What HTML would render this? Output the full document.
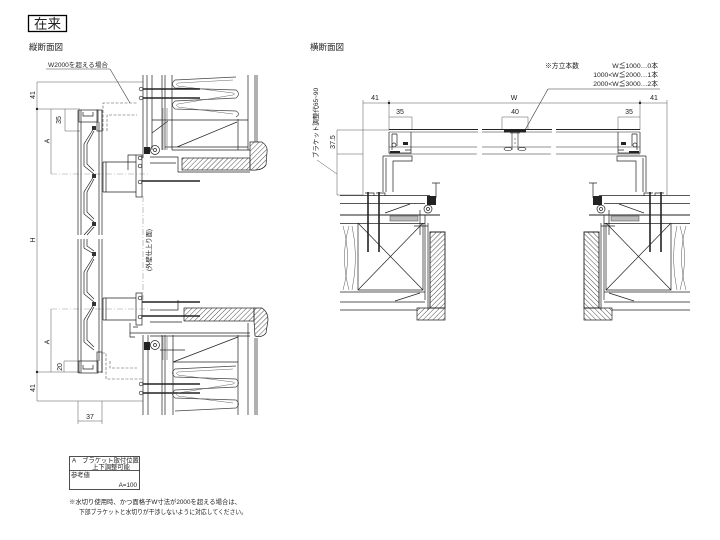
<!DOCTYPE html>
<html><head><meta charset="utf-8">
<style>
html,body{margin:0;padding:0;background:#fff;}
svg{display:block;}
text{font-family:"Liberation Sans","Noto Sans CJK JP",sans-serif;fill:#222;}
</style></head><body>
<svg width="720" height="540" viewBox="0 0 720 540" xmlns="http://www.w3.org/2000/svg">
<defs>
<pattern id="hatch" patternUnits="userSpaceOnUse" width="3.5" height="3.5" patternTransform="rotate(45)">
<line x1="0" y1="0" x2="0" y2="3.5" stroke="#222" stroke-width="0.8"/>
</pattern>
</defs>

<!-- Title -->
<rect x="28.5" y="15.5" width="38" height="16" fill="none" stroke="#000" stroke-width="1.3"/>
<text x="47.5" y="28.5" font-size="13.5" text-anchor="middle" fill="#000">在来</text>
<text x="29" y="50" font-size="8.5">縦断面図</text>
<text x="310" y="50" font-size="8.5">横断面図</text>

<!-- ============ LEFT: vertical section ============ -->
<text x="48" y="67" font-size="6.5" textLength="60" lengthAdjust="spacingAndGlyphs">W2000を超える場合</text>
<g stroke="#444" stroke-width="0.6" fill="none">
<line x1="46" y1="69" x2="110" y2="69"/>
<line x1="110" y1="69" x2="130" y2="103"/>
</g>

<!-- dimensions -->
<g stroke="#555" stroke-width="0.5" fill="none">
<line x1="37" y1="82" x2="37" y2="401"/>
<line x1="37" y1="82" x2="143" y2="82"/>
<line x1="37" y1="109" x2="80" y2="109"/>
<line x1="37" y1="372" x2="80" y2="372"/>
<line x1="37" y1="401" x2="143" y2="401"/>
<line x1="51" y1="109" x2="51" y2="174"/>
<line x1="51" y1="309" x2="51" y2="372"/>
<line x1="65" y1="109" x2="65" y2="131"/>
<line x1="65" y1="131" x2="80" y2="131"/>
<line x1="64" y1="361" x2="64" y2="372"/>
<line x1="64" y1="361" x2="80" y2="361"/>
<line x1="78" y1="401" x2="78" y2="424"/>
<line x1="102" y1="401" x2="102" y2="424"/>
<line x1="78" y1="421" x2="102" y2="421"/>
</g>
<g fill="#222"><circle cx="37" cy="109" r="1.2"/><circle cx="37" cy="372" r="1.2"/></g>
<g stroke="#999" stroke-width="0.6" stroke-dasharray="6,2,1,2" fill="none">
<line x1="51" y1="174" x2="150" y2="174"/>
<line x1="51" y1="309" x2="150" y2="309"/>
<line x1="143" y1="196" x2="143" y2="300"/>
</g>
<g font-size="7">
<text transform="translate(35,95) rotate(-90)" text-anchor="middle">41</text>
<text transform="translate(35,240) rotate(-90)" text-anchor="middle">H</text>
<text transform="translate(35,388) rotate(-90)" text-anchor="middle">41</text>
<text transform="translate(49.5,141) rotate(-90)" text-anchor="middle">A</text>
<text transform="translate(49.5,342) rotate(-90)" text-anchor="middle">A</text>
<text transform="translate(61,120) rotate(-90)" text-anchor="middle">35</text>
<text transform="translate(62,367) rotate(-90)" text-anchor="middle">20</text>
<text x="90" y="419" text-anchor="middle">37</text>
<text transform="translate(151,250) rotate(-90)" text-anchor="middle" font-size="6.3">(外壁仕上り面)</text>
</g>

<!-- louver panel -->
<g stroke="#222" stroke-width="0.7" fill="none">
<path d="M78,110 V235 M81,110 V235 M99,122 V235 M102,110 V235 M78,239 V373 M81,239 V373 M99,239 V361 M102,239 V373"/>
<rect x="79" y="110" width="19" height="12"/>
<path d="M83,112 V116 H93 V112"/>
<rect x="97" y="110" width="5" height="21"/>
<rect x="79" y="361" width="19" height="12"/>
<path d="M83,365 V369 H93 V365"/>
<rect x="97" y="352" width="5" height="20"/>
<!-- slats -->
<path d="M94,128 L84,144 L84,166 L94,174 M94,131 L87,144 L87,164 L94,171"/>
<path d="M94,176 L84,192 L84,214 L94,222 M94,179 L87,192 L87,212 L94,219"/>
<path d="M94,224 L84,235 M94,227 L87,235"/>
<path d="M84,239 L84,248 L94,254 M87,239 L87,246 L94,251"/>
<path d="M94,256 L84,272 L84,294 L94,302 M94,259 L87,272 L87,292 L94,299"/>
<path d="M94,304 L84,320 L84,342 L94,350 M94,307 L87,320 L87,340 L94,347"/>
</g>
<g fill="#333">
<rect x="92" y="126" width="4" height="4"/><rect x="92" y="174" width="4" height="4"/>
<rect x="92" y="222" width="4" height="4"/><rect x="92" y="252" width="4" height="4"/>
<rect x="92" y="302" width="4" height="4"/>
</g>
<!-- W2000 dashed outlines -->
<g stroke="#555" stroke-width="0.6" stroke-dasharray="3,1.5" fill="none">
<path d="M103,131 V103 H137 M107,131 V115 H137"/>
<path d="M102,353 H106 V379 H143 M110,361 V368 H137"/>
</g>

<!-- brackets (cylinders) -->
<g stroke="#222" stroke-width="0.7" fill="none">
<path d="M103,162 H136 M103,192 H136 M103,162 V192 M106,162 V192"/>
<rect x="136" y="155" width="6" height="42"/>
<path d="M128,170 V155 H136"/>
<circle cx="140" cy="158" r="1.8"/><circle cx="140" cy="166" r="1.8"/><circle cx="140" cy="182" r="1.8"/>
<path d="M103,298 H136 M103,320 H136 M103,298 V320 M106,298 V320"/>
<rect x="136" y="293" width="6" height="32"/>
<circle cx="140" cy="298" r="1.8"/><circle cx="140" cy="317" r="1.8"/>
<path d="M130,323 V337 H135 M133,327 h5"/>
</g>

<!-- upper wall -->
<g stroke="#222" stroke-width="0.7" fill="none">
<path d="M143,75 V158 M147,75 V150 M152,75 V150 M162,75 V150 M165,75 V150 M172,75 V150 M238,119 V150 M248,75 V150 M255,75 V142 M257,75 V142"/>
<path d="M152,120 H248 M165,147 H248 M172,150 H250 M177,147 L237,122 M152,133 L168,121"/>
<path d="M163,108 V150 M167,108 V150" stroke="#777"/>
<path d="M150,157 H178 V172 H250 M150,163 H176"/>
<!-- insulation -->
<path d="M236,77 L175,80 Q170,84 175,88 L236,90 Q241,94 236,98 L175,101 Q170,105 175,109 L236,111 Q241,114 236,117" stroke="#444"/>
<path d="M233,80 L178,83 Q175,84 178,86 L233,93 Q236,94 233,95 L178,104 Q175,105 178,107 L233,114" stroke="#666" stroke-width="0.5"/>
<circle cx="155" cy="150" r="4.5"/>
<circle cx="155" cy="150" r="1.5"/>
</g>
<rect x="144" y="147" width="6" height="7" fill="#222"/>
<rect x="182" y="158" width="68" height="12" fill="url(#hatch)" stroke="#222" stroke-width="0.7"/>
<path d="M250,142 H262 Q268,146 267,152 L266,165 Q262,171 250,170 Z" fill="url(#hatch)" stroke="#222" stroke-width="0.7"/>
<g stroke="#222" stroke-width="1.6">
<line x1="142" y1="89" x2="200" y2="89"/>
<line x1="142" y1="98" x2="200" y2="98"/>
<line x1="142" y1="181" x2="200" y2="181"/>
<line x1="142" y1="302" x2="200" y2="302"/>
<line x1="142" y1="316" x2="200" y2="316"/>
<line x1="142" y1="384" x2="200" y2="384"/>
<line x1="142" y1="393" x2="200" y2="393"/>
</g>
<g fill="#fff" stroke="#222" stroke-width="0.6">
<circle cx="141" cy="89" r="1.8"/><circle cx="141" cy="98" r="1.8"/>
<circle cx="141" cy="384" r="1.8"/><circle cx="141" cy="393" r="1.8"/>
</g>

<!-- lower wall -->
<g stroke="#222" stroke-width="0.7" fill="none">
<path d="M143,335 V415 M148,335 V415 M162,335 V415 M165,335 V415 M173,335 V415 M238,335 V415 M248,323 V415 M255,338 V415 M257,338 V415"/>
<path d="M130,333 H250 M150,336 H250 M173,362 H238 M173,362 L238,337 M160,350 H185"/>
<path d="M163,336 V360 M167,336 V360" stroke="#777"/>
<path d="M150,310 H178 V300 M150,322 H182"/>
<path d="M236,366 L175,369 Q170,373 175,377 L236,379 Q241,383 236,387 L175,390 Q170,394 175,398 L236,400 Q241,404 236,408 L175,411" stroke="#444"/>
<path d="M233,369 L178,372 Q175,373 178,375 L233,382 Q236,383 233,384 L178,393 Q175,394 178,396 L233,403" stroke="#666" stroke-width="0.5"/>
<circle cx="155" cy="345" r="4.5"/>
<circle cx="155" cy="345" r="1.5"/>
</g>
<rect x="144" y="342" width="6" height="8" fill="#222"/>
<rect x="184" y="308" width="70" height="13" fill="url(#hatch)" stroke="#222" stroke-width="0.7"/>
<path d="M254,308 H262 Q268,312 268,320 L266,333 Q262,338 255,336 L254,321 Z" fill="url(#hatch)" stroke="#222" stroke-width="0.7"/>

<!-- ============ RIGHT: horizontal section ============ -->
<g font-size="6.8">
<text x="545" y="68">※方立本数</text>
<text x="658" y="68" text-anchor="end">W≦1000…0本</text>
<text x="658" y="77" text-anchor="end">1000&lt;W≦2000…1本</text>
<text x="658" y="86" text-anchor="end">2000&lt;W≦3000…2本</text>
</g>
<g stroke="#333" stroke-width="0.6" fill="none">
<line x1="548" y1="89" x2="660" y2="89"/>
<line x1="548" y1="89" x2="525" y2="130"/>
</g>
<!-- dims -->
<g stroke="#555" stroke-width="0.5" fill="none">
<line x1="363" y1="103" x2="667" y2="103"/>
<line x1="363" y1="100" x2="363" y2="195"/>
<line x1="667" y1="100" x2="667" y2="195"/>
<line x1="389" y1="100" x2="389" y2="130"/>
<line x1="640" y1="100" x2="640" y2="130"/>
<path d="M389,117 H412 V130 M502,117 H528 V130 M502,117 V130 M618,117 H640 M618,117 V130"/>
<line x1="337" y1="130" x2="389" y2="130"/>
<line x1="337" y1="130" x2="337" y2="195"/>
<line x1="337" y1="154" x2="363" y2="154"/>
<line x1="337" y1="195" x2="363" y2="195"/>
<line x1="317" y1="160" x2="337" y2="174"/>
</g>
<g fill="#222"><circle cx="389" cy="103" r="1.2"/><circle cx="640" cy="103" r="1.2"/></g>
<g font-size="7">
<text x="375" y="100" text-anchor="middle">41</text>
<text x="514" y="100" text-anchor="middle">W</text>
<text x="654" y="100" text-anchor="middle">41</text>
<text x="400" y="114" text-anchor="middle">35</text>
<text x="515" y="114" text-anchor="middle">40</text>
<text x="629" y="114" text-anchor="middle">35</text>
<text transform="translate(335,142) rotate(-90)" text-anchor="middle">37.5</text>
<text transform="translate(318,123) rotate(-90)" text-anchor="middle" font-size="6.5">ブラケット調整代65~90</text>
</g>

<!-- frame rails -->
<g stroke="#222" fill="none">
<path d="M389,129.5 H478 M482,129.5 H552 M556,129.5 H640" stroke-width="1.1"/>
<path d="M389,132 H478 M482,132 H552 M556,132 H640" stroke-width="0.6"/>
<path d="M389,147 H478 M482,147 H552 M556,147 H640" stroke-width="0.6"/>
<path d="M389,154 H478 M482,154 H552 M556,154 H640" stroke-width="0.6"/>
</g>
<g stroke="#fff" stroke-width="1.2">
<line x1="479" y1="126" x2="477" y2="158"/><line x1="553" y1="126" x2="551" y2="158"/>
</g>
<!-- mullion -->
<g stroke="#222" stroke-width="0.6" fill="none">
<path d="M512,132 V150 M518,132 V150 M510,133 H520 M514,139 h2 M514,143 h2"/>
<ellipse cx="508" cy="149" rx="4" ry="1.6"/>
<ellipse cx="522" cy="149" rx="4" ry="1.6"/>
</g>
<rect x="504" y="130" width="22" height="2.5" fill="#222"/>

<!-- left half (mirrored on right) -->
<g id="hh" fill="none" stroke="#222" stroke-width="0.7">
<!-- jamb -->
<path d="M389,132 V153 H411 V132 M392,134 V150 M397,134 V146 M392,134 H397 M405,150 H411"/>
<circle cx="394" cy="145" r="2"/>
<rect x="403" y="142" width="5" height="3" fill="#222" stroke="none"/>
<rect x="390" y="151" width="10" height="2" fill="#222" stroke="none"/>
<!-- bracket -->
<path d="M383,156 H412 V161 H393 V192 M383,156 V192 M386,158 V192"/>
<path d="M365,193 h9 v3 M376,193 h9 v3"/>
<!-- wall -->
<path d="M340,195.5 H430 M340,203.5 H425 M340,223.5 H425 M340,292 H425 M340,302 H425 M340,310 H417"/>
<line x1="340" y1="215" x2="440" y2="215" stroke-width="1"/>
<path d="M358,223 V290 H423 V223 M358,223 L423,290 M423,223 L358,290"/>
<path d="M385,213 L410,204 M395,301 L420,293"/>
<path d="M425,215 V300 M428,223 V310 M420,210 V235 M414,226 H428"/>
<path d="M436,183 V198 M432,183 H440"/>
<circle cx="428" cy="209" r="4"/>
<circle cx="428" cy="209" r="1.5"/>
<path d="M343,226 Q352,257 343,290 M349,226 Q340,257 349,290 M352,226 Q359,257 352,290" stroke="#555" stroke-width="0.5"/>
</g>
<rect x="427" y="196" width="9" height="9" fill="#222"/>
<rect x="390" y="216" width="28" height="5" fill="#bbb" stroke="#444" stroke-width="0.5"/>
<path d="M430,232 H445 V308 H430 Z" fill="url(#hatch)" stroke="#222" stroke-width="0.9"/>
<path d="M417,308 H445 V320 H417 Z" fill="url(#hatch)" stroke="#222" stroke-width="0.7"/>
<g stroke="#222" stroke-width="1.6">
<line x1="368" y1="192" x2="368" y2="252"/>
<line x1="379" y1="192" x2="379" y2="252"/>
</g>

<!-- mirrored right half -->
<g transform="translate(1029,0) scale(-1,1)">
<g fill="none" stroke="#222" stroke-width="0.7">
<path d="M389,132 V153 H411 V132 M392,134 V150 M397,134 V146 M392,134 H397 M405,150 H411"/>
<circle cx="394" cy="145" r="2"/>
<path d="M383,156 H412 V161 H393 V192 M383,156 V192 M386,158 V192"/>
<path d="M365,193 h9 v3 M376,193 h9 v3"/>
<path d="M339,195.5 H430 M339,203.5 H425 M339,223.5 H425 M339,292 H425 M339,302 H425 M339,310 H417"/>
<line x1="339" y1="215" x2="440" y2="215" stroke-width="1"/>
<path d="M358,223 V290 H423 V223 M358,223 L423,290 M423,223 L358,290"/>
<path d="M385,213 L410,204 M395,301 L420,293"/>
<path d="M425,215 V300 M428,223 V310 M420,210 V235 M414,226 H428"/>
<path d="M436,183 V198 M432,183 H440"/>
<circle cx="428" cy="209" r="4"/>
<circle cx="428" cy="209" r="1.5"/>
<path d="M343,226 Q352,257 343,290 M349,226 Q340,257 349,290 M352,226 Q359,257 352,290" stroke="#555" stroke-width="0.5"/>
</g>
<rect x="403" y="142" width="5" height="3" fill="#222"/>
<rect x="390" y="151" width="10" height="2" fill="#222"/>
<rect x="427" y="196" width="9" height="9" fill="#222"/>
<rect x="390" y="216" width="28" height="5" fill="#bbb" stroke="#444" stroke-width="0.5"/>
<path d="M430,232 H445 V308 H430 Z" fill="url(#hatch)" stroke="#222" stroke-width="0.9"/>
<path d="M417,308 H445 V320 H417 Z" fill="url(#hatch)" stroke="#222" stroke-width="0.7"/>
<g stroke="#222" stroke-width="1.6">
<line x1="368" y1="192" x2="368" y2="252"/>
<line x1="379" y1="192" x2="379" y2="252"/>
</g>
</g>

<!-- ============ Bottom table & notes ============ -->
<rect x="69.5" y="456.5" width="70" height="33" fill="none" stroke="#222" stroke-width="0.8"/>
<line x1="69.5" y1="470.5" x2="139.5" y2="470.5" stroke="#222" stroke-width="0.8"/>
<g font-size="6.3">
<text x="72" y="462.5">A　ブラケット取付位置</text>
<text x="111" y="469" text-anchor="middle">上下調整可能</text>
<text x="71" y="477">参考値</text>
<text x="137" y="487" text-anchor="end">A=100</text>
<text x="69" y="504" textLength="172" lengthAdjust="spacingAndGlyphs">※水切り使用時、かつ面格子W寸法が2000を超える場合は、</text>
<text x="79" y="514" textLength="168" lengthAdjust="spacingAndGlyphs">下部ブラケットと水切りが干渉しないように対応してください。</text>
</g>
</svg>
</body></html>
